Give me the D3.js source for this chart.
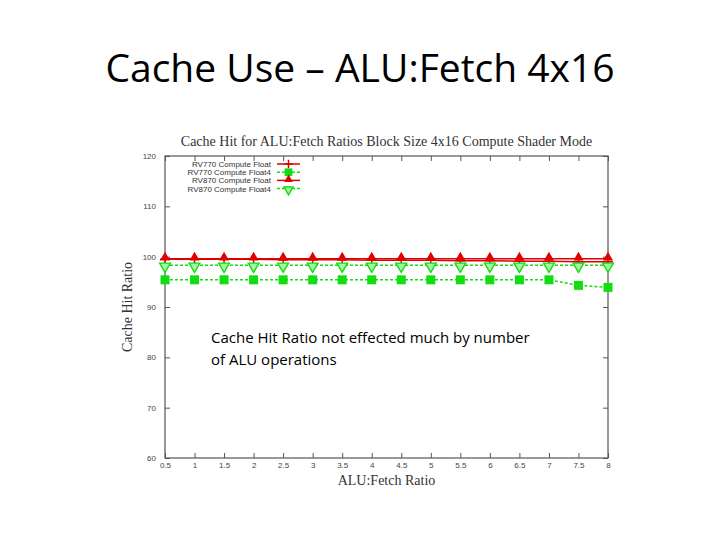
<!DOCTYPE html>
<html>
<head>
<meta charset="utf-8">
<script src="https://cdn.jsdelivr.net/npm/d3@7"></script>
<style>
  body { margin: 0; background: #fff; }
  svg { display: block; }
</style>
</head>
<body>
<div id="chart"></div>
<script>
// ALU:Fetch ratios on the x axis
var ratios = [0.5, 1, 1.5, 2, 2.5, 3, 3.5, 4, 4.5, 5, 5.5, 6, 6.5, 7, 7.5, 8];
// cache hit ratio per series
var rv770Float  = [99.5, 99.5, 99.5, 99.5, 99.4, 99.4, 99.4, 99.3, 99.3, 99.3, 99.2, 99.2, 99.1, 99.1, 99.0, 99.0];
var rv770Float4 = [95.4, 95.4, 95.4, 95.4, 95.4, 95.4, 95.4, 95.4, 95.4, 95.4, 95.4, 95.4, 95.4, 95.4, 94.3, 93.9];
var rv870Float  = [99.6, 99.6, 99.6, 99.6, 99.6, 99.6, 99.6, 99.6, 99.6, 99.6, 99.6, 99.6, 99.6, 99.6, 99.6, 99.6];
var rv870Float4 = [98.3, 98.3, 98.3, 98.3, 98.3, 98.3, 98.3, 98.3, 98.3, 98.3, 98.3, 98.3, 98.3, 98.3, 98.3, 98.3];
var xTicks = [0.5, 1, 1.5, 2, 2.5, 3, 3.5, 4, 4.5, 5, 5.5, 6, 6.5, 7, 7.5, 8];
var yTicks = [60, 70, 80, 90, 100, 110, 120];
var seriesNames = ["RV770 Compute Float", "RV770 Compute Float4", "RV870 Compute Float", "RV870 Compute Float4"];

var width = 720, height = 540;
var margin = {top: 156, right: 112, bottom: 82, left: 165};
var red = "#e00000", green = "#11dd11";

var svg = d3.select("#chart").append("svg")
    .attr("width", width)
    .attr("height", height);

// slide title
svg.append("text")
    .attr("x", 360).attr("y", 82)
    .attr("text-anchor", "middle")
    .style("font-family", "'Open Sans', sans-serif")
    .style("font-size", "39px")
    .attr("fill", "#000")
    .text("Cache Use \u2013 ALU:Fetch 4x16");

var x = d3.scaleLinear().domain([0.5, 8]).range([margin.left, width - margin.right]);
var y = d3.scaleLinear().domain([60, 120]).range([height - margin.bottom, margin.top]);

var g = svg.append("g");

// plot border
g.append("rect")
    .attr("x", x(0.5)).attr("y", y(120))
    .attr("width", x(8) - x(0.5)).attr("height", y(60) - y(120))
    .attr("fill", "none").attr("stroke", "#555").attr("stroke-width", 1.2);

// gnuplot style inward ticks, mirrored
g.append("g").attr("transform", "translate(0," + y(60) + ")")
    .call(d3.axisBottom(x).tickValues(xTicks).tickSizeInner(-5).tickSizeOuter(0).tickPadding(4).tickFormat(d3.format("")))
    .call(a => a.select(".domain").remove());
g.append("g").attr("transform", "translate(0," + y(120) + ")")
    .call(d3.axisTop(x).tickValues(xTicks).tickSizeInner(-5).tickSizeOuter(0).tickFormat(""))
    .call(a => a.select(".domain").remove());
g.append("g").attr("transform", "translate(" + x(0.5) + ",0)")
    .call(d3.axisLeft(y).tickValues(yTicks).tickSizeInner(-5).tickSizeOuter(0).tickPadding(9))
    .call(a => a.select(".domain").remove());
g.append("g").attr("transform", "translate(" + x(8) + ",0)")
    .call(d3.axisRight(y).tickValues(yTicks).tickSizeInner(-5).tickSizeOuter(0).tickFormat(""))
    .call(a => a.select(".domain").remove());

g.selectAll(".tick line").attr("stroke", "#555");
g.selectAll(".tick text")
    .attr("fill", "#444")
    .style("font-family", "'Liberation Sans', Arial, sans-serif")
    .style("font-size", "8px");

// chart title and axis labels (serif, gnuplot look)
svg.append("text")
    .attr("x", (x(0.5) + x(8)) / 2).attr("y", 146)
    .attr("text-anchor", "middle")
    .style("font-family", "'Liberation Serif', 'Times New Roman', serif")
    .style("font-size", "14px")
    .attr("fill", "#333")
    .text("Cache Hit for ALU:Fetch Ratios Block Size 4x16 Compute Shader Mode");

svg.append("text")
    .attr("x", (x(0.5) + x(8)) / 2).attr("y", 485)
    .attr("text-anchor", "middle")
    .style("font-family", "'Liberation Serif', 'Times New Roman', serif")
    .style("font-size", "14px")
    .attr("fill", "#333")
    .text("ALU:Fetch Ratio");

svg.append("text")
    .attr("transform", "translate(132," + ((y(60) + y(120)) / 2) + ") rotate(-90)")
    .attr("text-anchor", "middle")
    .style("font-family", "'Liberation Serif', 'Times New Roman', serif")
    .style("font-size", "14px")
    .attr("fill", "#333")
    .text("Cache Hit Ratio");

var line = d3.line().x((d, i) => x(ratios[i])).y(d => y(d));

var series = [
  {name: seriesNames[0], values: rv770Float,  color: red,   dash: null,  marker: "plus"},
  {name: seriesNames[1], values: rv770Float4, color: green, dash: "3,2", marker: "square"},
  {name: seriesNames[2], values: rv870Float,  color: red,   dash: null,  marker: "tri"},
  {name: seriesNames[3], values: rv870Float4, color: green, dash: "3,2", marker: "invtri"}
];

function drawMarker(sel, s, cx, cy, k) {
  k = k || 1;
  if (s.marker === "plus") {
    sel.append("path")
      .attr("d", "M" + (cx - 5 * k) + "," + cy + "H" + (cx + 5 * k) + "M" + cx + "," + (cy - 5 * k) + "V" + (cy + 5 * k))
      .attr("stroke", s.color).attr("stroke-width", 1.5);
  } else if (s.marker === "square") {
    sel.append("rect")
      .attr("x", cx - 4.5 * k).attr("y", cy - 4.5 * k).attr("width", 9 * k).attr("height", 9 * k)
      .attr("fill", s.color);
  } else if (s.marker === "tri") {
    sel.append("path")
      .attr("d", d3.symbol().type(d3.symbolTriangle).size(45 * k * k)())
      .attr("transform", "translate(" + cx + "," + (cy - 1) + ")")
      .attr("fill", s.color);
  } else {
    sel.append("path")
      .attr("d", d3.symbol().type(d3.symbolTriangle).size(50 * k * k)())
      .attr("transform", "translate(" + cx + "," + (cy + 1) + ") rotate(180)")
      .attr("fill", "#aaf5aa").attr("stroke", s.color).attr("stroke-width", 1.4);
  }
}

series.forEach(function(s) {
  var sg = svg.append("g");
  sg.append("path")
    .datum(s.values)
    .attr("d", line)
    .attr("fill", "none")
    .attr("stroke", s.color)
    .attr("stroke-width", s.dash ? 1.5 : 1.6)
    .attr("stroke-dasharray", s.dash);
  s.values.forEach(function(v, i) {
    drawMarker(sg, s, x(ratios[i]), y(v));
  });
});

// legend, top-left inside plot
var legend = svg.append("g");
series.forEach(function(s, i) {
  var ly = 164 + i * 8.2;
  legend.append("text")
    .attr("x", 271).attr("y", ly + 3)
    .attr("text-anchor", "end")
    .style("font-family", "'Liberation Sans', Arial, sans-serif")
    .style("font-size", "8px")
    .attr("fill", "#333")
    .text(s.name);
  legend.append("line")
    .attr("x1", 277).attr("x2", 300).attr("y1", ly).attr("y2", ly)
    .attr("stroke", s.color).attr("stroke-width", 1.5)
    .attr("stroke-dasharray", s.dash);
  drawMarker(legend, s, 288.5, ly, 0.85);
});

// annotation on the slide
var note = svg.append("text")
    .style("font-family", "'Open Sans', sans-serif")
    .style("font-size", "15px")
    .attr("fill", "#000");
note.append("tspan").attr("x", 211).attr("y", 343).text("Cache Hit Ratio not effected much by number");
note.append("tspan").attr("x", 211).attr("y", 365).text("of ALU operations");
</script>
</body>
</html>
